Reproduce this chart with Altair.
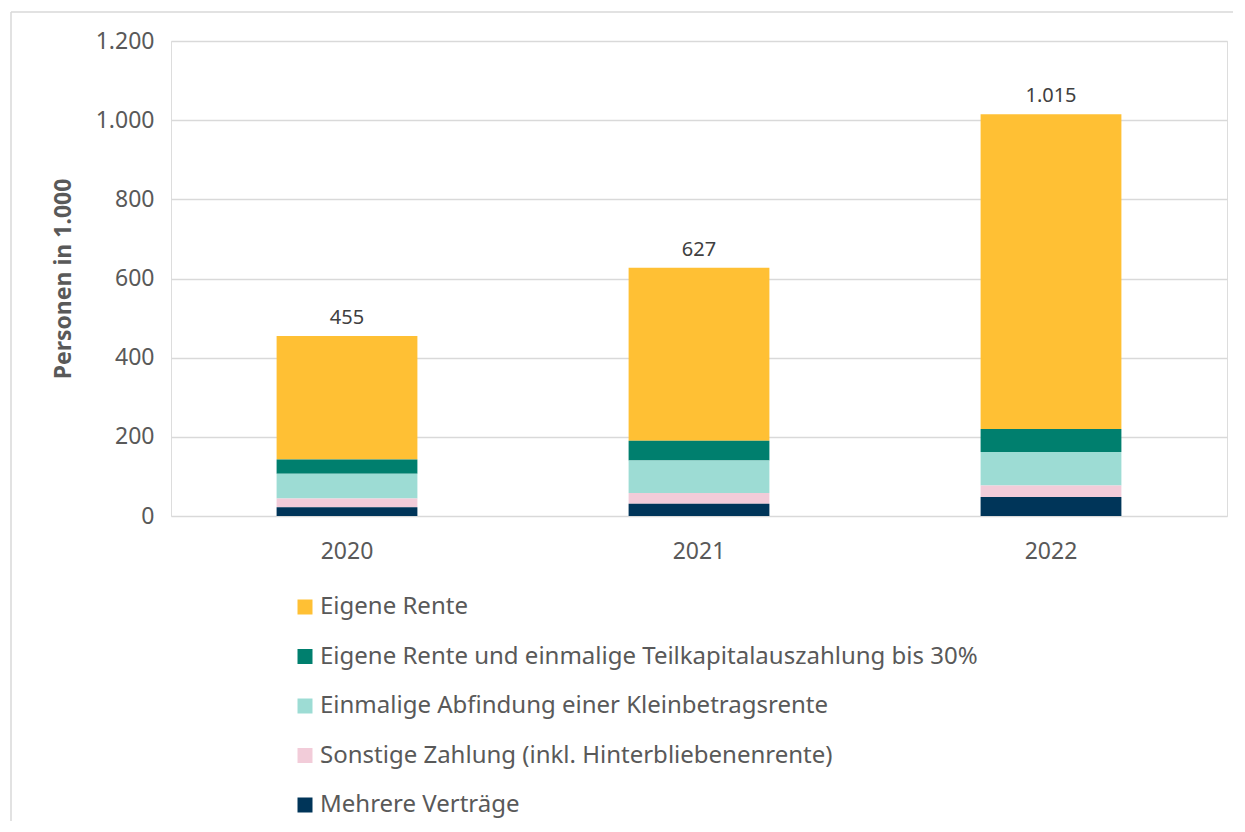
import altair as alt
import pandas as pd

years = ["2020", "2021", "2022"]
series = [
    "Eigene Rente",
    "Eigene Rente und einmalige Teilkapitalauszahlung bis 30%",
    "Einmalige Abfindung einer Kleinbetragsrente",
    "Sonstige Zahlung (inkl. Hinterbliebenenrente)",
    "Mehrere Verträge",
]
colors = ["#FFC034", "#007F6E", "#9DDCD4", "#F2CCD9", "#003559"]
eigene_rente = [312, 437, 795]
teilkapital = [36, 50, 58]
kleinbetrag = [63, 82, 85]
sonstige = [22, 27, 29]
mehrere = [22, 31, 48]
totals = [455, 627, 1015]

values = [eigene_rente, teilkapital, kleinbetrag, sonstige, mehrere]
rows = []
for si, (name, vals) in enumerate(zip(series, values)):
    for y, v in zip(years, vals):
        rows.append({"Jahr": y, "Art": name, "Wert": v, "ord": len(series) - si})
df = pd.DataFrame(rows)
tot = pd.DataFrame({"Jahr": years, "total": totals})

FONT = "Noto Sans"
GREY = "#595959"

xenc = alt.X(
    "Jahr:N",
    title=None,
    scale=alt.Scale(paddingInner=0.6, paddingOuter=0.3),
    axis=alt.Axis(labelAngle=0, domain=False, ticks=False, labelPadding=24,
                  labelFontSize=23, labelColor=GREY, labelFont=FONT),
)

bars = alt.Chart(df).mark_bar().encode(
    x=xenc,
    y=alt.Y(
        "Wert:Q",
        stack="zero",
        title="Personen in 1.000",
        scale=alt.Scale(domain=[0, 1200]),
        axis=alt.Axis(
            values=[0, 200, 400, 600, 800, 1000, 1200],
            labelExpr="replace(format(datum.value, ','), ',', '.')",
            domain=False, ticks=False, labelPadding=17,
            labelFontSize=23, labelColor=GREY, labelFont=FONT,
            titleFontSize=23, titleFont=FONT, titleFontWeight="bold",
            titleColor=GREY, titlePadding=20,
            gridColor="#d9d9d9", gridWidth=1.5,
        ),
    ),
    color=alt.Color(
        "Art:N",
        scale=alt.Scale(domain=series, range=colors),
        legend=alt.Legend(
            title=None, orient="none", legendX=122, legendY=554,
            direction="vertical", symbolType="square", symbolSize=225,
            symbolStrokeWidth=0, labelFontSize=24, labelFont=FONT,
            labelColor=GREY, rowPadding=25.5, labelOffset=3, labelLimit=1000,
        ),
    ),
    order=alt.Order("ord:Q", sort="ascending"),
)

labels = alt.Chart(tot).transform_calculate(
    lab="replace(format(datum.total, ','), ',', '.')"
).mark_text(dy=-18, fontSize=20, font=FONT, color="#404040").encode(
    x=alt.X("Jahr:N"),
    y=alt.Y("total:Q"),
    text="lab:N",
)

one = pd.DataFrame({"k": [0]})
frame_left = alt.Chart(one).mark_rule(color="#d9d9d9", strokeWidth=1.5).encode(
    x=alt.value(-160), y=alt.value(-29), y2=alt.value(780)
)
frame_top = alt.Chart(one).mark_rule(color="#d9d9d9", strokeWidth=1.5).encode(
    x=alt.value(-160), x2=alt.value(1062), y=alt.value(-29)
)

chart = alt.layer(frame_left, frame_top, bars, labels).properties(
    width=1056, height=475,
    padding={"left": 2, "top": 3, "right": 0, "bottom": 0},
).configure_view(stroke=None).configure(font=FONT)

chart.save("out.html", embed_options={"renderer": "svg", "actions": False})
